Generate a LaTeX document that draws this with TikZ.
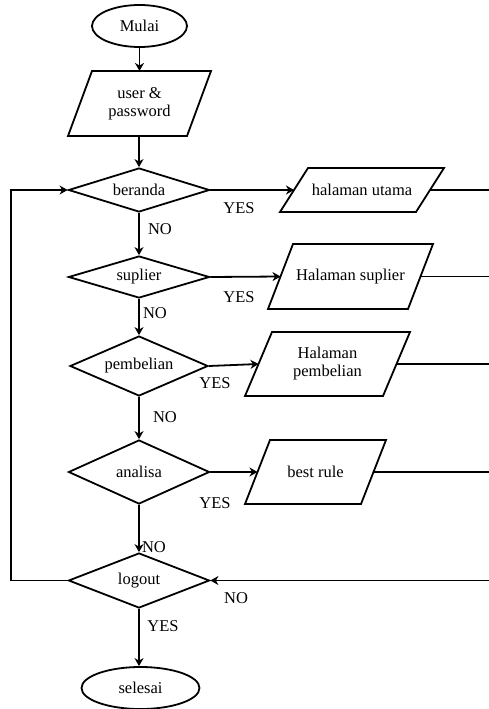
\documentclass[tikz,border=0pt]{standalone}
\usepackage{fontspec}
\setmainfont{Liberation Serif}
\usetikzlibrary{shapes.geometric,arrows.meta}
\newcommand\drawpara[2]{\draw[shapeline] ([xshift=#2pt]#1.north west) -- ([xshift=#2pt]#1.north east) -- ([xshift=-#2pt]#1.south east) -- ([xshift=-#2pt]#1.south west) -- cycle;}
\tikzset{
  every node/.style={font=\fontsize{16.5}{18}\selectfont},
  shapeline/.style={line width=1.8pt, line join=miter},
  term/.style={ellipse, draw, line width=1.8pt, inner sep=0pt},
  decision/.style={diamond, draw, line width=1.8pt, inner sep=0.5pt},
  iobox/.style={rectangle, inner sep=0pt, outer sep=0pt, align=center},
  conn/.style={line width=1.8pt},
  arr/.style={conn, -{Stealth[length=8pt,width=9pt,inset=2.5pt]}},
  lbl/.style={inner sep=0pt}
}
\begin{document}
\begin{tikzpicture}[x=1pt,y=-1pt]
\useasboundingbox (0,0) rectangle (488,709);
% terminals
\node[term, minimum width=95pt, minimum height=42pt] (mulai) at (139.5,26) {Mulai};
\node[term, minimum width=118pt, minimum height=42pt] (selesai) at (140.5,688) {selesai};
% input/output boxes
\node[iobox, minimum width=119pt, minimum height=65pt] (user) at (139.5,103.5) {user \&\\password};
\drawpara{user}{12}
\node[iobox, minimum width=136pt, minimum height=44pt] (utama) at (362,190) {halaman utama};
\drawpara{utama}{14}
\node[iobox, minimum width=140pt, minimum height=65pt] (hsup) at (350.5,276.5) {Halaman suplier};
\drawpara{hsup}{12.5}
\node[iobox, minimum width=138pt, minimum height=64pt] (hpem) at (327.5,364) {Halaman\\pembelian};
\drawpara{hpem}{13.5}
\node[iobox, minimum width=116pt, minimum height=64pt] (best) at (315.5,472) {best rule};
\drawpara{best}{12.5}
% decisions
\node[decision, minimum width=141pt, minimum height=44pt, aspect=3.2] (beranda) at (139,190) {beranda};
\node[decision, minimum width=141pt, minimum height=42pt, aspect=3.36] (suplier) at (139,277) {suplier};
\node[decision, minimum width=138pt, minimum height=60pt, aspect=2.3] (pembelian) at (139,366) {pembelian};
\node[decision, minimum width=141pt, minimum height=64pt, aspect=2.2] (analisa) at (139,472) {analisa};
\node[decision, minimum width=141pt, minimum height=55pt, aspect=2.56] (logout) at (139,580.5) {logout};
% helper coordinates
\coordinate (rx) at (491,0);
\coordinate (lx) at (11,0);
% vertical flow
\draw[arr] (mulai.south) -- (mulai.south |- user.north);
\draw[arr] (user.south -| beranda.north) -- (beranda.north);
\draw[arr] (beranda.south) -- (suplier.north);
\draw[arr] (suplier.south) -- (pembelian.north);
\draw[arr] (pembelian.south) -- (analisa.north);
\draw[arr] (analisa.south) -- (logout.north);
\draw[arr] (logout.south) -- (logout.south |- selesai.north);
% yes branches
\draw[arr] (beranda.east) -- (utama.west);
\draw[arr] (suplier.east) -- (hsup.west);
\draw[arr] (pembelian.east) -- (hpem.west);
\draw[arr] (analisa.east) -- (best.west);
% return lines on the right
\draw[conn] (utama.east) -- (utama.east -| rx);
\draw[conn] (hsup.east) -- (hsup.east -| rx);
\draw[conn] (hpem.east) -- (hpem.east -| rx);
\draw[conn] (best.east) -- (best.east -| rx);
\draw[conn] (utama.east -| rx) -- (logout.east -| rx);
\draw[arr] (logout.east -| rx) -- (logout.east);
% loop back on the left
\draw[arr] (logout.west) -- (logout.west -| lx) -- (beranda.west -| lx) -- (beranda.west);
% labels
\node[lbl] (no1) at (160,229) {NO};
\node[lbl] (yes1) at (239,208) {YES};
\node[lbl] (yes2) at (239,297) {YES};
\node[lbl] (no2) at (155,313) {NO};
\node[lbl] (yes3) at (215,383) {YES};
\node[lbl] (no3) at (165,417) {NO};
\node[lbl] (yes4) at (215,503) {YES};
\node[lbl] (no4) at (154,547) {NO};
\node[lbl] (no5) at (236,598) {NO};
\node[lbl] (yes5) at (163,626) {YES};
\end{tikzpicture}
\end{document}
